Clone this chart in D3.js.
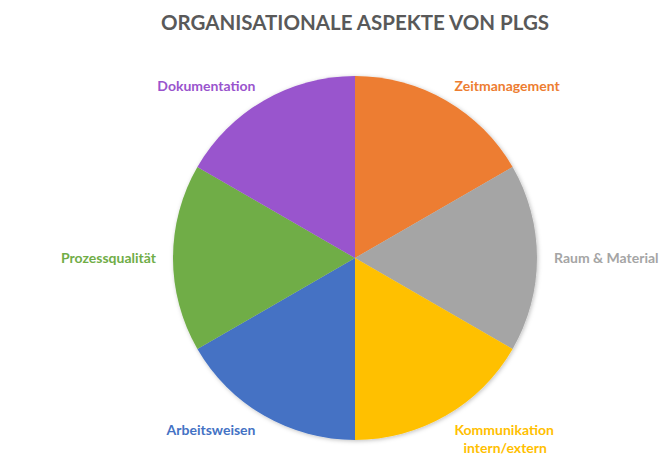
<!DOCTYPE html>
<html>
<head>
<meta charset="utf-8">
<script src="https://cdn.jsdelivr.net/npm/d3@7"></script>
<style>
  body { margin: 0; background: #fff; }
  svg { font-family: Lato, "Open Sans", sans-serif; }
</style>
</head>
<body>
<svg width="663" height="463"></svg>
<script>
const categories = ['Zeitmanagement', 'Raum & Material', 'Kommunikation intern/extern', 'Arbeitsweisen', 'Prozessqualität', 'Dokumentation']
const values = [1, 1, 1, 1, 1, 1]
const colors = ['#ED7D31', '#A5A5A5', '#FFC000', '#4472C4', '#70AD47', '#9954CD']
// label lines (Kommunikation breaks in two)
const labelLines = [['Zeitmanagement'], ['Raum & Material'], ['Kommunikation', 'intern/extern'], ['Arbeitsweisen'], ['Prozessqualität'], ['Dokumentation']]

const svg = d3.select('svg')
const cx = 355, cy = 258, r = 182

const defs = svg.append('defs')
const shadow = defs.append('filter').attr('id', 'shadow')
  .attr('x', '-10%').attr('y', '-10%').attr('width', '120%').attr('height', '120%')
shadow.append('feDropShadow')
  .attr('dx', 1).attr('dy', 1).attr('stdDeviation', 2)
  .attr('flood-color', '#000').attr('flood-opacity', 0.25)

// title
svg.append('text')
  .attr('x', 355)
  .attr('y', 30)
  .attr('text-anchor', 'middle')
  .attr('fill', '#595959')
  .attr('font-weight', 'bold')
  .attr('font-size', 20.5)
  .text('ORGANISATIONALE ASPEKTE VON PLGS')

const pie = d3.pie().sort(null).value(d => d)
const arcs = pie(values)
const arc = d3.arc().innerRadius(0).outerRadius(r)

const g = svg.append('g').attr('transform', `translate(${cx}, ${cy})`)

g.append('g')
  .attr('filter', 'url(#shadow)')
  .selectAll('path.slice')
  .data(arcs)
  .enter()
  .append('path')
  .attr('class', 'slice')
  .attr('d', arc)
  .attr('fill', (d, i) => colors[i])

// labels placed just outside, anchored away from the pie
const labelR = 199
const labels = g.selectAll('text.label')
  .data(arcs)
  .enter()
  .append('text')
  .attr('class', 'label')
  .attr('font-weight', 'bold')
  .attr('font-size', 14)
  .attr('fill', (d, i) => colors[i])
  .attr('text-anchor', d => {
    const a = (d.startAngle + d.endAngle) / 2
    return Math.sin(a) > 0 ? 'start' : 'end'
  })
  .attr('transform', d => {
    const a = (d.startAngle + d.endAngle) / 2
    return `translate(${labelR * Math.sin(a)}, ${-labelR * Math.cos(a) + 5})`
  })

labels.selectAll('tspan')
  .data((d, i) => labelLines[i])
  .enter()
  .append('tspan')
  .attr('x', 0)
  .attr('dx', (t, j) => j === 0 ? 0 : 9)
  .attr('dy', (t, j) => j === 0 ? 0 : 18)
  .text(t => t)
</script>
</body>
</html>
